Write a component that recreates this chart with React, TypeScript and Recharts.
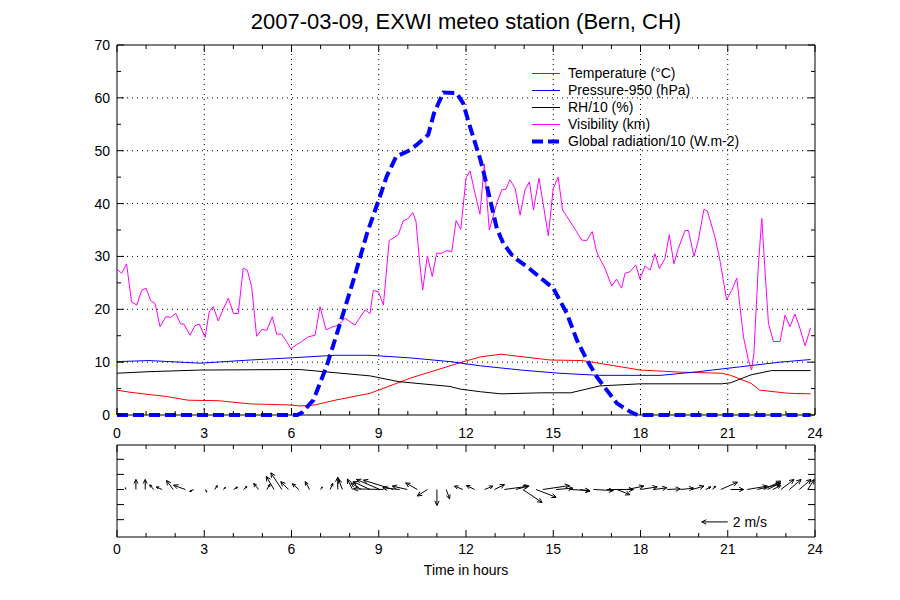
import React from "react";
import {
  LineChart,
  Line,
  XAxis,
  YAxis,
  ReferenceLine,
  ReferenceArea,
  Legend,
  ScatterChart,
  Scatter,
} from "recharts";

const FONT = '"Liberation Sans", Arial, Helvetica, sans-serif';
const PLOT_W = 698;
const PLOT_H = 370;
const LOW_H = 92;
const PX_PER_MS = 13;

// axes
const hourTicks = [0, 1, 2, 3, 4, 5, 6, 7, 8, 9, 10, 11, 12, 13, 14, 15, 16, 17, 18, 19, 20, 21, 22, 23, 24];
const valueTicks = [0, 5, 10, 15, 20, 25, 30, 35, 40, 45, 50, 55, 60, 65, 70];
const gridHours = [3, 6, 9, 12, 15, 18, 21];
const gridValues = [10, 20, 30, 40, 50, 60];
const windTicks = [-2, -1, 0, 1, 2];

// Temperature (°C)
const tempHours = [0, 0.45, 1.7, 2.44, 3.5, 4.57, 5.95, 6.3, 6.8, 7.5, 8.7, 10.1, 11.45, 11.8, 12.5, 13.2, 14.9, 16, 18, 19.4, 20.8, 21.1, 21.8, 22.1, 23.1, 23.85];
const tempValues = [4.7, 4.3, 3.5, 2.8, 2.7, 2.1, 1.9, 1.7, 1.9, 2.8, 4.1, 7.0, 9.3, 9.9, 11.0, 11.5, 10.4, 10.3, 8.5, 8.1, 7.9, 7.5, 6.0, 4.7, 4.1, 4.0];

// Pressure-950 (hPa)
const presHours = [0, 1.1, 2.85, 4.57, 5.95, 7.5, 8.7, 10.1, 11.45, 12.5, 13.9, 15.2, 16.6, 18.7, 20, 21.4, 22.8, 23.85];
const presValues = [10.1, 10.3, 9.8, 10.4, 10.8, 11.3, 11.3, 10.8, 10.1, 9.3, 8.5, 7.9, 7.5, 7.5, 8.2, 9.1, 10.0, 10.5];

// RH/10 (%)
const rhHours = [0, 1.1, 2.85, 5.95, 6.3, 7.5, 8.7, 9.7, 11.45, 11.8, 12.5, 13.2, 14.6, 15.6, 16.6, 18, 20.8, 21.1, 21.8, 22.5, 23.85];
const rhValues = [7.9, 8.2, 8.5, 8.6, 8.6, 8.0, 7.4, 6.3, 5.4, 4.9, 4.4, 4.0, 4.2, 4.2, 5.5, 5.9, 5.9, 6.1, 7.6, 8.4, 8.4];

// Visibility (km)
const visHours = [
  0, 0.16, 0.33, 0.5, 0.68, 0.85, 1.0, 1.16, 1.31, 1.48, 1.68, 1.85, 2.02, 2.19, 2.3, 2.51, 2.68, 2.83,
  3.03, 3.17, 3.31, 3.48, 3.66, 3.83, 4.0, 4.17, 4.34, 4.48, 4.63, 4.8, 4.98, 5.15, 5.34, 5.49, 5.66, 5.83,
  5.98, 6.15, 6.35, 6.58, 6.81, 6.98, 7.19, 7.38, 7.61, 7.84, 8.18, 8.53, 8.7, 8.81, 8.99, 9.16, 9.36, 9.67,
  9.84, 10.02, 10.17, 10.28, 10.4, 10.51, 10.67, 10.84, 10.99, 11.16, 11.34, 11.51, 11.66, 11.82, 12.0, 12.14,
  12.31, 12.48, 12.63, 12.8, 13.06, 13.23, 13.37, 13.51, 13.69, 13.86, 14.03, 14.18, 14.32, 14.51, 14.66,
  14.83, 15.0, 15.17, 15.32, 15.58, 15.8, 15.98, 16.15, 16.34, 16.49, 16.6, 16.78, 17.01, 17.18, 17.35,
  17.47, 17.64, 17.84, 17.98, 18.16, 18.33, 18.5, 18.65, 18.84, 18.99, 19.15, 19.3, 19.53, 19.65, 19.84,
  19.99, 20.18, 20.3, 20.56, 20.73, 20.96, 21.14, 21.31, 21.54, 21.71, 21.82, 21.9, 22.05, 22.17, 22.25,
  22.4, 22.57, 22.8, 22.97, 23.14, 23.31, 23.48, 23.66, 23.85,
];
const visValues = [
  27.6, 26.8, 28.6, 21.4, 20.8, 23.6, 24.0, 21.6, 21.1, 16.7, 18.6, 18.5, 19.2, 17.2, 17.2, 15.1, 16.9, 17.2,
  14.7, 19.5, 20.5, 17.8, 20.1, 22.1, 19.2, 19.2, 27.8, 27.4, 24.3, 14.9, 16.2, 16.0, 18.6, 15.3, 15.3, 13.9,
  12.5, 13.2, 13.9, 14.8, 15.1, 20.5, 16.1, 16.6, 17.0, 18.3, 17.0, 19.9, 19.2, 23.6, 23.3, 20.8, 33.0, 34.1,
  36.7, 37.2, 38.3, 36.6, 29.3, 23.6, 30.1, 26.2, 30.6, 30.6, 31.1, 30.9, 36.8, 35.1, 44.8, 46.2,
  41.9, 38.0, 47.5, 35.0, 40.1, 42.6, 42.7, 44.5, 42.9, 37.8, 42.6, 44.1, 38.8, 44.8, 39.7,
  33.9, 42.9, 45.0, 38.8, 36.6, 34.7, 33.1, 33.0, 34.7, 30.9, 29.6, 27.7, 24.4, 25.7, 24.0,
  26.8, 27.1, 28.4, 25.7, 28.2, 27.4, 30.5, 27.7, 29.6, 34.1, 28.6, 31.5, 34.9, 34.9, 30.0,
  33.1, 38.9, 38.6, 33.7, 29.3, 21.8, 23.6, 25.9, 14.8, 10.4, 8.5, 11.7, 28.1, 37.2, 30.0,
  17.3, 13.9, 13.9, 18.9, 16.7, 19.1, 16.4, 13.1, 16.5,
];

// Global radiation/10 (W.m-2)
const radHours = [0, 6.2, 6.35, 6.75, 7.2, 7.67, 8.13, 8.6, 9.0, 9.27, 9.6, 10.07, 10.3, 10.7, 10.9, 11.22, 11.68, 11.9, 12.14, 12.5, 12.7, 13.06, 13.28, 13.63, 14.09, 14.55, 15.0, 15.47, 15.81, 16.16, 16.5, 16.84, 17.19, 17.65, 17.9, 23.85];
const radValues = [0, 0, 0.4, 2.8, 9.1, 17.3, 25.5, 34.4, 40.7, 45.1, 48.9, 50.1, 51.1, 53.0, 57.1, 61.0, 60.9, 59.0, 54.5, 48.2, 43.8, 35.3, 32.5, 29.9, 28.1, 26.0, 24.0, 19.2, 14.2, 10.4, 7.2, 4.7, 2.2, 0.6, 0, 0];

// wind (m/s): eastward u, northward v
const windHours = [
  0.31, 0.65, 0.97, 1.26, 1.55, 1.93, 2.35, 2.64, 3.04, 3.36,
  3.65, 4.01, 4.35, 4.87, 5.15, 5.4, 5.67, 5.9, 6.25, 6.62,
  7.0, 7.33, 7.59, 7.75, 8.1, 8.4, 8.7, 9.04, 9.16, 9.5,
  9.72, 9.98, 10.33, 10.67, 11.0, 11.32, 11.89, 12.3, 12.64, 12.98,
  13.32, 13.72, 13.95, 14.41, 14.64, 15.1, 15.56, 15.92, 16.38, 16.84,
  17.19, 17.54, 18.0, 18.46, 18.92, 19.38, 19.78, 20.24, 20.47, 20.76,
  21.1, 21.67, 22.02, 22.25, 22.37, 22.55, 22.83, 23.12, 23.46, 23.75,
];
const windU = [
  -0.05, 0, 0, -0.3, -0.44, -0.51, -0.9, -0.31, 0.1, 0.2,
  0.18, 0.3, 0.26, -0.38, 0.25, -0.6, -0.85, -0.6, -0.5, -0.33,
  0.13, 0.2, 0, -0.3, -0.4, -0.8, -1.3, -1.8, -2.3, -2.3,
  -1.3, -1.15, -0.9, -0.77, 0, 0.26, -0.64, -0.64, 0.64, 0.77,
  1.9, 0.9, 1.49, 1.54, 2.05, 1.28, 1.54, 0.77, 1.54, 2.05,
  1.0, 1.28, 1.28, 1.0, 1.0, 1.0, 0.9, 0.4, 0.25, 1.28,
  1.0, 1.54, 1.8, 1.28, 1.0, 0.6, 1.0, 0.9, 0.9, 0.5,
];
const windV = [
  0.13, 0.77, 0.77, 0.36, 0.2, 0.69, 0.33, -0.15, -0.2, 0.3,
  0.15, 0.18, 0.23, 0.46, 0.4, 1.0, 1.28, 0.6, 0.44, 0.6,
  0.2, 0.46, 0.95, 0.8, 0.8, 0.5, 0.6, 0.77, 0.05, 0.72,
  0.13, 0.26, 0.5, -0.5, -1.23, -0.72, 0.26, 0.3, 0.26, 0.38,
  0.26, 0.26, -1.0, -0.6, 0.3, 0.1, -0.08, -0.13, -0.08, 0,
  -0.4, 0.26, 0.2, 0.13, 0.05, 0.1, 0.26, 0.2, 0.25, 0.56,
  0, 0.26, 0.46, 0.64, 0.5, 0.3, 0.77, 0.77, 0.77, 0.77,
];

const toPoints = (hours: number[], values: number[]) => hours.map((h, i) => ({ h, v: values[i] }));

const series = [
  { name: "Temperature (°C)", color: "#ff0000", width: 1, dash: undefined, data: toPoints(tempHours, tempValues) },
  { name: "Pressure-950 (hPa)", color: "#0000ff", width: 1, dash: undefined, data: toPoints(presHours, presValues) },
  { name: "RH/10 (%)", color: "#000000", width: 1, dash: undefined, data: toPoints(rhHours, rhValues) },
  { name: "Visibility (km)", color: "#ff00ff", width: 1, dash: undefined, data: toPoints(visHours, visValues) },
  { name: "Global radiation/10 (W.m-2)", color: "#0000ff", width: 4, dash: "11 5", data: toPoints(radHours, radValues) },
];

const windData = windHours.map((h, i) => ({ h, y: 0, u: windU[i], v: windV[i] }));
const scaleArrow = [{ h: 21.0, y: -2.15, u: -2, v: 0 }];

function HourTick(props: any) {
  const { x, y, payload, plotH, labelDy } = props;
  const h = payload.value;
  const major = h % 3 === 0;
  const len = major ? 7 : 4;
  return (
    <g>
      <line x1={x} y1={y} x2={x} y2={y - len} stroke="#000" />
      <line x1={x} y1={y - plotH} x2={x} y2={y - plotH + len} stroke="#000" />
      {major && (
        <text x={x} y={y + labelDy} textAnchor="middle" fontSize={14} fontFamily={FONT} fill="#000">
          {h}
        </text>
      )}
    </g>
  );
}

function ValueTick(props: any) {
  const { x, y, payload, majorStep, showLabels } = props;
  const val = payload.value;
  const major = Math.abs(val % majorStep) < 1e-6;
  const len = major ? 7 : 4;
  return (
    <g>
      <line x1={x} y1={y} x2={x + len} y2={y} stroke="#000" />
      <line x1={x + PLOT_W} y1={y} x2={x + PLOT_W - len} y2={y} stroke="#000" />
      {showLabels && major && (
        <text x={x - 7} y={y + 5} textAnchor="end" fontSize={14} fontFamily={FONT} fill="#000">
          {val}
        </text>
      )}
    </g>
  );
}

function WindArrow(props: any) {
  const { cx, cy, payload, label } = props;
  const x2 = cx + payload.u * PX_PER_MS;
  const y2 = cy - payload.v * PX_PER_MS;
  const len = Math.hypot(x2 - cx, y2 - cy);
  const ang = Math.atan2(y2 - cy, x2 - cx);
  const head = Math.min(5, len * 0.45);
  const a1 = ang + Math.PI - 0.45;
  const a2 = ang + Math.PI + 0.45;
  return (
    <g>
      <line x1={cx} y1={cy} x2={x2} y2={y2} stroke="#000" />
      {len > 1 && (
        <polyline
          points={`${x2 + head * Math.cos(a1)},${y2 + head * Math.sin(a1)} ${x2},${y2} ${x2 + head * Math.cos(a2)},${y2 + head * Math.sin(a2)}`}
          fill="none"
          stroke="#000"
        />
      )}
      {label && (
        <text x={cx + 5} y={cy + 5} fontSize={14} fontFamily={FONT} fill="#000">
          {label}
        </text>
      )}
    </g>
  );
}

function LegendBox() {
  return (
    <div style={{ fontFamily: FONT, fontSize: 14, color: "#000" }}>
      {series.map((s) => (
        <div key={s.name} style={{ display: "flex", alignItems: "center", height: 17, lineHeight: "17px" }}>
          <svg width={28} height={17} style={{ display: "block" }}>
            <line x1={0} y1={8.5} x2={28} y2={8.5} stroke={s.color} strokeWidth={s.width} strokeDasharray={s.dash} />
          </svg>
          <span style={{ marginLeft: 8, whiteSpace: "nowrap" }}>{s.name}</span>
        </div>
      ))}
    </div>
  );
}

export default function App() {
  return (
    <div style={{ position: "absolute", left: 0, top: 0, width: 900, height: 600, background: "#fff", fontFamily: FONT }}>
      <div style={{ position: "absolute", left: 117, top: 10, width: PLOT_W, textAlign: "center", fontSize: 22, lineHeight: "24px" }}>
        2007-03-09, EXWI meteo station (Bern, CH)
      </div>

      <div style={{ position: "absolute", left: 0, top: 0 }}>
        <LineChart width={900} height={440} margin={{ top: 45, right: 85, bottom: 0, left: 0 }}>
          <XAxis
            type="number"
            dataKey="h"
            domain={[0, 24]}
            ticks={hourTicks}
            interval={0}
            height={25}
            axisLine={false}
            tickLine={false}
            tickSize={0}
            tickMargin={0}
            tick={<HourTick plotH={PLOT_H} labelDy={23} />}
          />
          <YAxis
            type="number"
            domain={[0, 70]}
            ticks={valueTicks}
            interval={0}
            width={117}
            axisLine={false}
            tickLine={false}
            tickSize={0}
            tickMargin={0}
            tick={<ValueTick majorStep={10} showLabels />}
          />
          {gridHours.map((h) => (
            <ReferenceLine key={`gx${h}`} x={h} stroke="#000" strokeDasharray="1 4" />
          ))}
          {gridValues.map((v) => (
            <ReferenceLine key={`gy${v}`} y={v} stroke="#000" strokeDasharray="1 4" />
          ))}
          <ReferenceArea x1={0} x2={24} y1={0} y2={70} fill="none" stroke="#000" strokeOpacity={1} fillOpacity={0} />
          {series.map((s) => (
            <Line
              key={s.name}
              name={s.name}
              data={s.data}
              dataKey="v"
              type="linear"
              stroke={s.color}
              strokeWidth={s.width}
              strokeDasharray={s.dash}
              dot={false}
              activeDot={false}
              isAnimationActive={false}
            />
          ))}
          <Legend
            layout="horizontal"
            verticalAlign="middle"
            align="center"
            content={() => <LegendBox />}
            wrapperStyle={{ left: 532, top: 65, width: 280, height: 90 }}
          />
        </LineChart>
      </div>

      <div style={{ position: "absolute", left: 0, top: 440 }}>
        <ScatterChart width={900} height={160} margin={{ top: 5, right: 85, bottom: 13, left: 0 }}>
          <XAxis
            type="number"
            dataKey="h"
            domain={[0, 24]}
            ticks={hourTicks}
            interval={0}
            height={50}
            axisLine={false}
            tickLine={false}
            tickSize={0}
            tickMargin={0}
            tick={<HourTick plotH={LOW_H} labelDy={17} />}
          />
          <YAxis
            type="number"
            dataKey="y"
            domain={[-3.15, 2.95]}
            ticks={windTicks}
            interval={0}
            width={117}
            axisLine={false}
            tickLine={false}
            tickSize={0}
            tickMargin={0}
            tick={<ValueTick majorStep={1} showLabels={false} />}
          />
          <ReferenceArea x1={0} x2={24} y1={-3.15} y2={2.95} fill="none" stroke="#000" strokeOpacity={1} fillOpacity={0} />
          <Scatter data={windData} shape={<WindArrow />} isAnimationActive={false} />
          <Scatter data={scaleArrow} shape={<WindArrow label="2 m/s" />} isAnimationActive={false} />
        </ScatterChart>
      </div>

      <div style={{ position: "absolute", left: 117, top: 561, width: PLOT_W, textAlign: "center", fontSize: 14, lineHeight: "18px" }}>
        Time in hours
      </div>
    </div>
  );
}
